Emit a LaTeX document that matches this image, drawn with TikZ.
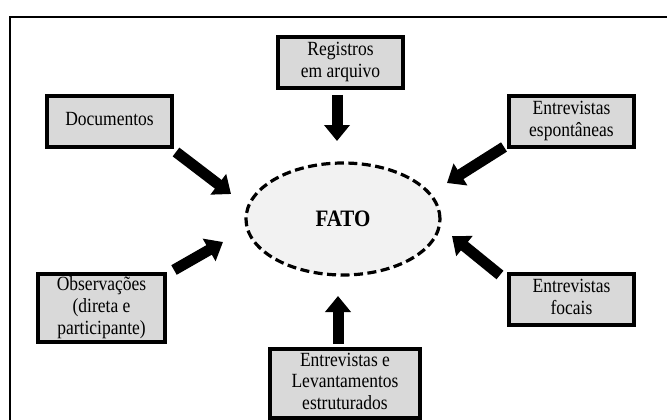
\documentclass[tikz,border=0pt]{standalone}
\usepackage{fontspec}
\setmainfont{Liberation Serif}
\usetikzlibrary{shapes.geometric,arrows.meta}
\definecolor{boxgray}{RGB}{217,217,217}
\definecolor{ovalgray}{RGB}{242,242,242}
% text set slightly taller than wide
\newcommand{\tallstack}[1]{\scalebox{1}[1.15]{\begin{tabular}{@{}c@{}}#1\end{tabular}}}
\begin{document}
\begin{tikzpicture}[x=1pt,y=-1pt,
  srcbox/.style={draw=black,line width=3.2pt,fill=boxgray,inner sep=0pt,
    minimum width=125pt,minimum height=51pt,
    font=\fontsize{17.5}{19}\selectfont},
  fato/.style={ellipse,draw=black,line width=3.2pt,dash pattern=on 9pt off 4.5pt,
    fill=ovalgray,minimum width=194pt,minimum height=112pt,inner sep=0pt,
    font=\fontsize{21}{22}\selectfont\bfseries},
  bigarrow/.style={line width=11pt,-{Triangle[width=25pt,length=16pt]}}]
\useasboundingbox (0,0) rectangle (667,420);
\begin{scope}
  \clip (0,0) rectangle (667,420);
  \fill[white] (0,0) rectangle (667,420);
  \draw[line width=2pt] (10,17) rectangle (690,440);
\end{scope}

\node[fato] (fato) at (343,219) {\scalebox{1}[1.12]{FATO}};

\node[srcbox] (reg) at (340.5,62.5) {\tallstack{Registros\\em arquivo}};
\node[srcbox] (doc) at (109.5,121.5) {\tallstack{Documentos}};
\node[srcbox] (esp) at (571.5,121.5) {\tallstack{Entrevistas\\espontâneas}};
\node[srcbox,minimum width=127pt,minimum height=68pt] (obs) at (101.5,308) {\tallstack{Observações\\(direta e\\participante)}};
\node[srcbox] (foc) at (571.5,299.5) {\tallstack{Entrevistas\\focais}};
\node[srcbox,minimum width=150pt,minimum height=69pt] (lev) at (345,383.5) {\tallstack{Entrevistas e\\Levantamentos\\estruturados}};

% arrow ends
\coordinate (regA) at (337,95);   \coordinate (regB) at (337,141);
\coordinate (docA) at (176,152);  \coordinate (docB) at (231,194);
\coordinate (espA) at (504,147);  \coordinate (espB) at (447,183);
\coordinate (obsA) at (174,270);  \coordinate (obsB) at (223,242);
\coordinate (focA) at (500,275);  \coordinate (focB) at (452,236);
\coordinate (levA) at (338,344);  \coordinate (levB) at (338,296);

\draw[bigarrow] (regA) -- (regB);
\draw[bigarrow] (docA) -- (docB);
\draw[bigarrow] (espA) -- (espB);
\draw[bigarrow] (obsA) -- (obsB);
\draw[bigarrow] (focA) -- (focB);
\draw[bigarrow] (levA) -- (levB);
\end{tikzpicture}
\end{document}
